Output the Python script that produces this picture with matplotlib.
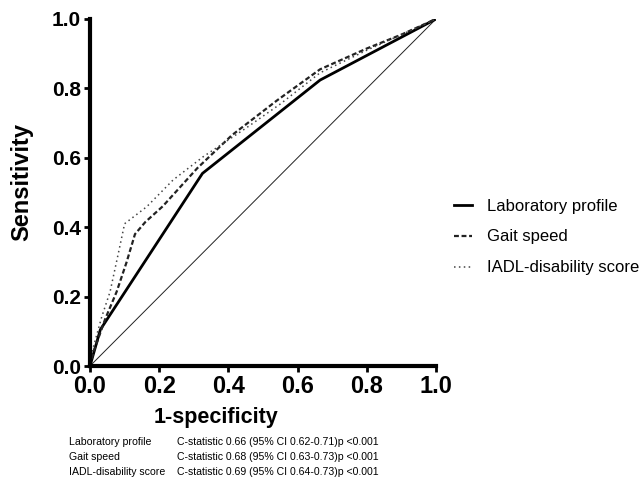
import matplotlib
matplotlib.use("Agg")
import matplotlib.pyplot as plt

lab_x = [0.0, 0.03, 0.325, 0.665, 1.0]
lab_y = [0.0, 0.105, 0.555, 0.824, 1.0]

gait_x = [0.0, 0.01, 0.043, 0.077, 0.106, 0.13, 0.16, 0.21, 0.31, 0.41, 0.54, 0.665, 0.80, 0.90, 1.0]
gait_y = [0.0, 0.04, 0.133, 0.214, 0.30, 0.38, 0.415, 0.46, 0.57, 0.665, 0.765, 0.855, 0.915, 0.955, 1.0]

iadl_x = [0.0, 0.005, 0.034, 0.058, 0.082, 0.10, 0.164, 0.24, 0.327, 0.45, 0.55, 0.665, 0.80, 0.90, 1.0]
iadl_y = [0.0, 0.037, 0.142, 0.214, 0.325, 0.41, 0.459, 0.536, 0.603, 0.685, 0.755, 0.845, 0.91, 0.955, 1.0]

labels = ["Laboratory profile", "Gait speed", "IADL-disability score"]
stats = ["C-statistic 0.66 (95% CI 0.62-0.71)p <0.001",
         "C-statistic 0.68 (95% CI 0.63-0.73)p <0.001",
         "C-statistic 0.69 (95% CI 0.64-0.73)p <0.001"]
ticks = [0.0, 0.2, 0.4, 0.6, 0.8, 1.0]

plt.rcParams['font.family'] = ['Liberation Sans', 'DejaVu Sans']

fig = plt.figure(figsize=(6.39, 4.83), dpi=100)
ax = fig.add_axes([90/639, 1-366/483, 346/639, 347/483])

ax.plot([0, 1], [0, 1], color='#222222', lw=0.7)
l1, = ax.plot(lab_x, lab_y, color='black', lw=2.0, label=labels[0])
l2, = ax.plot(gait_x, gait_y, color='#222222', lw=1.6, dashes=(2.2, 1.2), label=labels[1])
l3, = ax.plot(iadl_x, iadl_y, color='#444444', lw=1.1, dashes=(1.0, 2.2), label=labels[2])

ax.set_xlim(0, 1)
ax.set_ylim(0, 1)
ax.set_xticks(ticks)
ax.set_yticks(ticks)
ax.set_xticklabels([f"{t:.1f}" for t in ticks], fontsize=17, fontweight='bold')
ax.set_yticklabels([f"{t:.1f}" for t in ticks], fontsize=15, fontweight='bold')
for s in ['top', 'right']:
    ax.spines[s].set_visible(False)
for s in ['left', 'bottom']:
    ax.spines[s].set_linewidth(3)
ax.tick_params(axis='both', direction='out', length=4.5, width=2, pad=2)

fig.text(22/639, 1-182/483, "Sensitivity", fontsize=17, fontweight='bold',
         rotation=90, ha='center', va='center')
fig.text(216/639, 1-417/483, "1-specificity", fontsize=15.5, fontweight='bold',
         ha='center', va='center')

for i, (lab, st) in enumerate(zip(labels, stats)):
    y = 1 - (442 + 15*i)/483
    fig.text(69/639, y, lab, fontsize=7.6, va='center', ha='left')
    fig.text(177/639, y, st, fontsize=7.6, va='center', ha='left')

leg = fig.legend(handles=[l1, l2, l3], loc='upper left', bbox_to_anchor=(447/639, 1-192/483),
                 frameon=False, fontsize=12, handlelength=1.1, handletextpad=0.9,
                 labelspacing=0.95, borderaxespad=0)

fig.savefig("out.png", dpi=100)
